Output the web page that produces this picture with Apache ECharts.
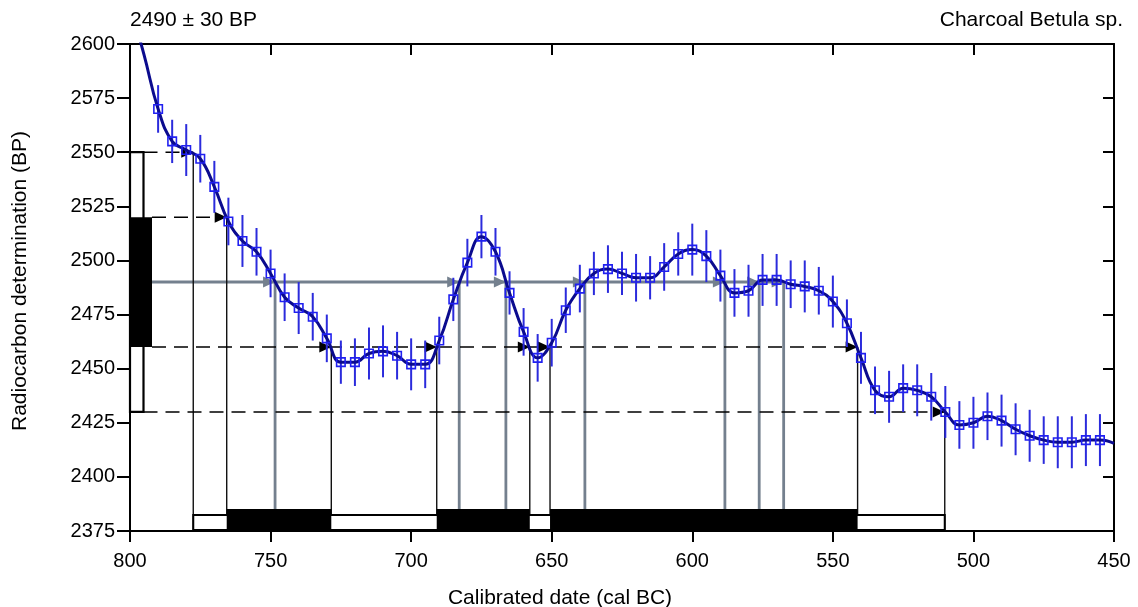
<!DOCTYPE html>
<html><head><meta charset="utf-8">
<script src="https://cdn.jsdelivr.net/npm/echarts@6/dist/echarts.min.js"></script>
<style>html,body{margin:0;padding:0;background:#fff}#c{width:1138px;height:607px}</style>
</head><body><div id="c"></div>
<script>
// ---- data ----
const years = [800,795,790,785,780,775,770,765,760,755,750,745,740,735,730,725,720,715,710,705,700,695,690,685,680,675,670,665,660,655,650,645,640,635,630,625,620,615,610,605,600,595,590,585,580,575,570,565,560,555,550,545,540,535,530,525,520,515,510,505,500,495,490,485,480,475,470,465,460,455,450];
const bp =    [2618,2595,2570,2555,2551,2547,2534,2518,2509,2504,2494,2483,2478,2474,2464,2453,2453,2457,2458,2456,2452,2452,2463,2482,2499,2511,2504,2485,2467,2455,2462,2477,2487,2494,2496,2494,2492,2492,2497,2503,2505,2502,2493,2485,2486,2491,2491,2489,2488,2486,2481,2471,2455,2440,2437,2441,2440,2437,2430,2424,2425,2428,2426,2422,2419,2417,2416,2416,2417,2417,2415.5];
const err =   [11,11,11,10,12,11,12,11,12,11,11,11,12,11,11,10,11,12,12,11,12,11,11,10,11,10,11,10,11,11,11,10.5,11,10,11,10,11,10,11,10,12,12,12,11,12,12,12,11,12,11,12,11,12,11,12,11,12,11,12,11,12,11,12,12,12,11,12,12,12,12,12];
const noMarkerYears = [800,795,450];

const measuredBP = 2490;
const measuredErr = 30;
const sigma68 = [2460, 2520];
const sigma95 = [2430, 2550];

const cross2550 = [777.5];
const cross2520 = [765.6];
const cross2460 = [728.4, 690.9, 657.8, 650.6, 541.2];
const cross2430 = [510.2];
const cross2490 = [748.4, 682.9, 666.3, 638.2, 588.4, 576.2, 567.5];

const range68 = [[765.6, 728.4], [690.9, 657.8], [650.6, 541.2]];
const range95 = [[777.5, 510.2]];

const xTicks = {min: 450, max: 800, interval: 50};
const yTicks = {min: 2375, max: 2600, interval: 25};

// ---- styles ----
const FONT = '"Liberation Sans", Arial, sans-serif';
const GRAY = '#74808e';
const BOX_W95 = 13.5, BOX_W68 = 22;
const BOT_H95 = 16, BOT_H68 = 22;

const guideLevels = [
  {level: sigma95[1], cross: cross2550, startW: BOX_W95},
  {level: sigma68[1], cross: cross2520, startW: BOX_W68},
  {level: sigma68[0], cross: cross2460, startW: BOX_W68},
  {level: sigma95[0], cross: cross2430, startW: BOX_W95}
];

function arrow(tipX, y, color, len, half) {
  return {type: 'polygon', shape: {points: [[tipX, y], [tipX - len, y - half], [tipX - len, y + half]]},
    style: {fill: color, stroke: null}};
}

const chart = echarts.init(document.getElementById('c'), null, {renderer: 'canvas'});

const curveData = years.map((y, i) => {
  const item = {value: [y, bp[i]]};
  if (noMarkerYears.indexOf(y) >= 0) item.symbol = 'none';
  return item;
});
const errData = years.map((y, i) => [y, bp[i] - err[i], bp[i] + err[i]]).filter(d => noMarkerYears.indexOf(d[0]) < 0);

const axisLine = {show: true, onZero: false, lineStyle: {color: '#000', width: 2}};
const plain = v => String(v);

chart.setOption({
  animation: false,
  backgroundColor: '#fff',
  grid: {left: 130, right: 24, top: 44, bottom: 76, containLabel: false},
  xAxis: [
    {type: 'value', min: xTicks.min, max: xTicks.max, interval: xTicks.interval, inverse: true, position: 'bottom',
     axisLine: axisLine, axisTick: {show: true, inside: false, length: 11, lineStyle: {color: '#000', width: 2}},
     axisLabel: {show: true, color: '#000', fontSize: 20, fontFamily: FONT, margin: 20, formatter: plain},
     splitLine: {show: false}},
    {type: 'value', min: xTicks.min, max: xTicks.max, interval: xTicks.interval, inverse: true, position: 'top',
     axisLine: axisLine, axisTick: {show: true, inside: true, length: 11, lineStyle: {color: '#000', width: 2}},
     axisLabel: {show: false}, splitLine: {show: false}}
  ],
  yAxis: [
    {type: 'value', min: yTicks.min, max: yTicks.max, interval: yTicks.interval, position: 'left',
     axisLine: axisLine, axisTick: {show: true, inside: false, length: 13, lineStyle: {color: '#000', width: 2}},
     axisLabel: {show: true, color: '#000', fontSize: 20, fontFamily: FONT, margin: 15, formatter: plain},
     splitLine: {show: false}},
    {type: 'value', min: yTicks.min, max: yTicks.max, interval: yTicks.interval, position: 'right',
     axisLine: axisLine, axisTick: {show: true, inside: true, length: 11, lineStyle: {color: '#000', width: 2}},
     axisLabel: {show: false}, splitLine: {show: false}}
  ],
  graphic: [
    {type: 'text', left: 130, top: 10, style: {text: measuredBP + ' \u00b1 ' + measuredErr + ' BP', fill: '#000', font: '21px ' + FONT}},
    {type: 'text', right: 15, top: 10, style: {text: 'Charcoal Betula sp.', fill: '#000', font: '21px ' + FONT}},
    {type: 'text', x: 560, y: 598, style: {text: 'Calibrated date (cal BC)', fill: '#000', font: '21px ' + FONT, align: 'center', verticalAlign: 'middle'}},
    {type: 'text', x: 20, y: 281, rotation: Math.PI / 2, style: {text: 'Radiocarbon determination (BP)', fill: '#000', font: '21px ' + FONT, align: 'center', verticalAlign: 'middle'}}
  ],
  series: [
    // gray measured-value line with intersections
    {type: 'custom', z: 2, clip: true, data: [[0]],
     renderItem: function (params, api) {
       const x0 = api.coord([xTicks.max, measuredBP])[0];
       const yb = api.coord([xTicks.max, yTicks.min])[1];
       const y = api.coord([xTicks.max, measuredBP])[1];
       const xs = cross2490.map(c => api.coord([c, measuredBP])[0]);
       const lastX = Math.max.apply(null, xs);
       const ch = [{type: 'line', shape: {x1: x0 + BOX_W68, y1: y, x2: lastX, y2: y}, style: {stroke: GRAY, lineWidth: 3}}];
       xs.forEach(x => {
         ch.push({type: 'line', shape: {x1: x, y1: y, x2: x, y2: yb}, style: {stroke: GRAY, lineWidth: 2.8}});
         ch.push(arrow(x, y, GRAY, 12, 5.5));
       });
       return {type: 'group', children: ch};
     }},
    // dashed guide lines, thin drop lines, black arrows
    {type: 'custom', z: 3, clip: true, data: guideLevels.map((g, i) => [i]),
     renderItem: function (params, api) {
       const g = guideLevels[params.dataIndex];
       const x0 = api.coord([xTicks.max, g.level])[0];
       const y = api.coord([xTicks.max, g.level])[1];
       const yb = api.coord([xTicks.max, yTicks.min])[1];
       const xs = g.cross.map(c => api.coord([c, g.level])[0]);
       const lastX = Math.max.apply(null, xs);
       const ch = [{type: 'line', shape: {x1: x0 + g.startW, y1: y, x2: lastX, y2: y},
                    style: {stroke: '#000', lineWidth: 1.5, lineDash: [14, 8]}}];
       xs.forEach(x => {
         ch.push({type: 'line', shape: {x1: x, y1: y, x2: x, y2: yb}, style: {stroke: '#111', lineWidth: 1.4}});
         ch.push(arrow(x, y, '#000', 12, 5.5));
       });
       return {type: 'group', children: ch};
     }},
    // left BP range boxes
    {type: 'custom', z: 4, clip: false, data: [[0]],
     renderItem: function (params, api) {
       const p95a = api.coord([xTicks.max, sigma95[1]]);
       const p95b = api.coord([xTicks.max, sigma95[0]]);
       const p68a = api.coord([xTicks.max, sigma68[1]]);
       const p68b = api.coord([xTicks.max, sigma68[0]]);
       return {type: 'group', children: [
         {type: 'rect', shape: {x: p95a[0], y: p95a[1], width: BOX_W95, height: p95b[1] - p95a[1]},
          style: {fill: '#fff', stroke: '#000', lineWidth: 2.2}},
         {type: 'rect', shape: {x: p68a[0], y: p68a[1], width: BOX_W68, height: p68b[1] - p68a[1]},
          style: {fill: '#000', stroke: null}}
       ]};
     }},
    // bottom calibrated range boxes
    {type: 'custom', z: 4, clip: false, data: [[0]],
     renderItem: function (params, api) {
       const yb = api.coord([xTicks.max, yTicks.min])[1];
       const ch = [];
       range95.forEach(r => {
         const xa = api.coord([r[0], yTicks.min])[0], xb = api.coord([r[1], yTicks.min])[0];
         ch.push({type: 'rect', shape: {x: xa, y: yb - BOT_H95, width: xb - xa, height: BOT_H95 - 1},
                  style: {fill: '#fff', stroke: '#000', lineWidth: 2}});
       });
       range68.forEach(r => {
         const xa = api.coord([r[0], yTicks.min])[0], xb = api.coord([r[1], yTicks.min])[0];
         ch.push({type: 'rect', shape: {x: xa, y: yb - BOT_H68, width: xb - xa, height: BOT_H68},
                  style: {fill: '#000', stroke: null}});
       });
       return {type: 'group', children: ch};
     }},
    // error bars
    {type: 'custom', z: 5, clip: true, data: errData,
     renderItem: function (params, api) {
       const a = api.coord([api.value(0), api.value(1)]);
       const b = api.coord([api.value(0), api.value(2)]);
       return {type: 'line', shape: {x1: a[0], y1: a[1], x2: b[0], y2: b[1]},
               style: {stroke: '#2b2bdc', lineWidth: 2}};
     }},
    // calibration curve
    {type: 'line', z: 6, clip: true, data: curveData, smooth: 0.45,
     lineStyle: {color: '#0b0b8e', width: 3},
     symbol: 'rect', symbolSize: 8.5, showAllSymbol: true,
     itemStyle: {color: 'rgba(255,255,255,0)', borderColor: '#2020f0', borderWidth: 1.6}}
  ]
});
</script></body></html>
